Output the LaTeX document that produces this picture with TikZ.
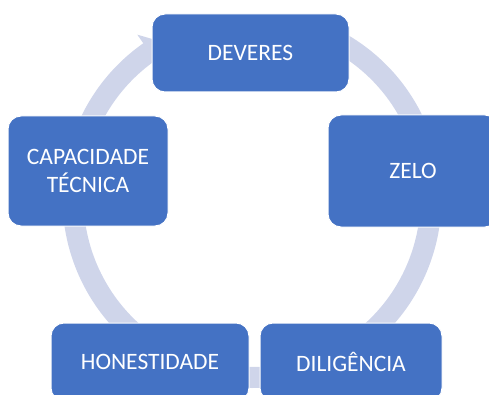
\documentclass[tikz,border=0pt]{standalone}
\usepackage{fontspec}
\setmainfont{Carlito}
\definecolor{boxblue}{RGB}{68,114,196}
\definecolor{ringblue}{RGB}{207,213,234}

\begin{document}
\begin{tikzpicture}[x=1pt,y=1pt,
	box/.style={draw=white,line width=1pt,fill=boxblue,rounded corners=13pt,text=white,align=center,inner sep=0pt,font=\fontsize{23.5}{27.5}\selectfont},
	ring/.style={draw=ringblue,line width=21pt}]

		\useasboundingbox (0,0) rectangle (489,394);
		\coordinate (O) at (252,195.5);

		\begin{scope}[shift={(O)}]
			\draw[ring] (65:179) arc[start angle=65,end angle=20,radius=179];
			\draw[ring] (20:179) arc[start angle=20,end angle=-65,radius=179];
			\draw[ring] (-65:179) arc[start angle=-65,end angle=-115,radius=179];
			\draw[ring] (-115:179) arc[start angle=-115,end angle=-200,radius=179];
			\draw[ring] (160:179) arc[start angle=160,end angle=124,radius=179];
			\fill[ringblue] (125:200) -- (117:172) -- (125:158) -- cycle;
		\end{scope}

		\node[box,minimum width=197,minimum height=78] (dev) at (250.5,341) {DEVERES};
		\node[box,minimum width=170,minimum height=112] (zelo) at (413,223) {ZELO};
		\node[box,minimum width=182,minimum height=78] (dil) at (351,32) {DILIGÊNCIA};
		\node[box,minimum width=198,minimum height=78] (hon) at (150,32) {HONESTIDADE};
		\node[box,minimum width=160,minimum height=110] (cap) at (88,223) {CAPACIDADE\\TÉCNICA};
	\end{tikzpicture}
\end{document}
